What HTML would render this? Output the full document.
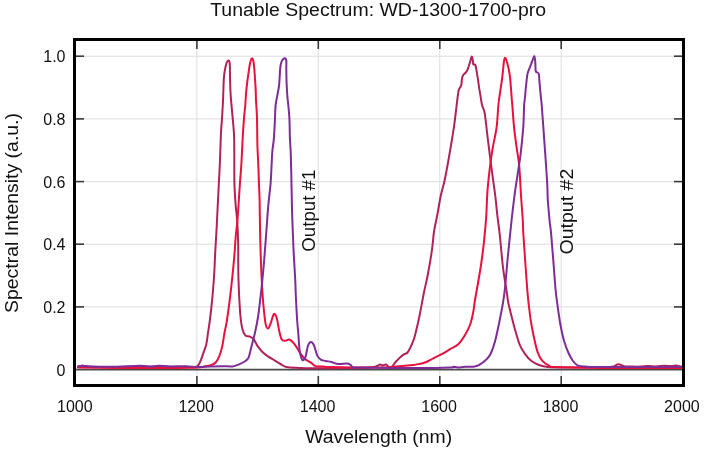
<!DOCTYPE html>
<html><head><meta charset="utf-8">
<style>
html,body{margin:0;padding:0;background:#fff;}
body{width:705px;height:450px;overflow:hidden;}
svg{display:block;will-change:transform;}
text{font-family:"Liberation Sans",sans-serif;fill:#111;}
</style></head><body>
<svg width="705" height="450" viewBox="0 0 705 450">
<rect width="705" height="450" fill="#fff"/>
<g stroke="#dddddd" stroke-width="1"><line x1="196.9" y1="41" x2="196.9" y2="384" /><line x1="318.3" y1="41" x2="318.3" y2="384" /><line x1="439.8" y1="41" x2="439.8" y2="384" /><line x1="561.2" y1="41" x2="561.2" y2="384" /><line x1="76" y1="306.9" x2="682" y2="306.9" /><line x1="76" y1="244.2" x2="682" y2="244.2" /><line x1="76" y1="181.6" x2="682" y2="181.6" /><line x1="76" y1="118.9" x2="682" y2="118.9" /><line x1="76" y1="56.2" x2="682" y2="56.2" /></g>
<line x1="76" y1="369.7" x2="682" y2="369.7" stroke="#4a4a4a" stroke-width="1.8"/>
<g fill="none" stroke-width="2" stroke-linejoin="round" stroke-linecap="round">
<path d="M78.0 366.5 C78.7 366.4 80.0 365.8 82.0 365.8 C84.0 365.9 83.7 366.6 90.0 366.8 C96.3 367.0 110.0 367.0 120.0 367.0 C130.0 367.0 140.0 366.8 150.0 366.8 C160.0 366.8 173.0 367.0 180.0 367.0 C187.0 367.0 189.3 367.1 192.2 367.0 C195.0 366.9 195.7 367.5 197.1 366.4 C198.5 365.3 199.7 362.8 200.8 360.3 C201.9 357.9 202.9 354.4 203.8 351.7 C204.7 349.0 205.6 347.6 206.3 344.4 C207.0 341.1 207.5 336.3 208.1 332.2 C208.7 328.1 209.2 325.5 209.9 320.0 C210.6 314.5 211.5 306.5 212.2 299.4 C212.9 292.3 213.5 284.6 214.0 277.2 C214.5 269.8 214.7 263.4 215.1 255.0 C215.5 246.6 216.1 238.8 216.7 226.7 C217.3 214.6 218.3 193.3 218.9 182.2 C219.5 171.1 219.7 168.0 220.0 160.0 C220.3 152.0 220.6 141.2 220.9 134.3 C221.2 127.4 221.7 123.5 222.0 118.3 C222.3 113.1 222.7 107.6 222.9 103.3 C223.1 99.0 223.2 96.0 223.3 92.7 C223.4 89.4 223.5 86.0 223.6 83.3 C223.7 80.6 223.8 78.9 224.0 76.7 C224.2 74.5 224.5 72.3 224.9 70.0 C225.3 67.7 226.1 64.3 226.7 62.7 C227.3 61.1 227.9 60.3 228.4 60.4 C228.9 60.5 229.4 60.6 229.7 63.3 C230.0 66.0 229.9 72.2 230.0 76.7 C230.1 81.2 230.2 86.0 230.4 90.0 C230.6 94.0 230.7 96.0 231.1 100.7 C231.5 105.4 232.2 112.7 232.7 118.3 C233.2 123.9 233.7 128.7 234.0 134.3 C234.3 139.9 234.2 143.7 234.3 151.7 C234.4 159.7 234.2 173.4 234.4 182.2 C234.6 191.0 235.1 197.7 235.6 204.4 C236.1 211.1 236.9 215.5 237.3 222.2 C237.7 228.9 238.0 235.2 238.2 244.4 C238.4 253.6 238.1 266.2 238.4 277.2 C238.7 288.2 239.4 302.1 240.0 310.6 C240.6 319.1 241.3 324.2 242.2 328.3 C243.1 332.4 244.1 333.9 245.3 335.3 C246.5 336.7 248.2 335.9 249.6 336.5 C251.0 337.1 252.2 337.5 253.5 339.0 C254.8 340.5 255.9 343.5 257.3 345.6 C258.8 347.7 260.4 349.9 262.2 351.7 C264.0 353.5 266.3 355.2 268.3 356.6 C270.3 358.0 272.4 359.1 274.4 360.3 C276.4 361.5 278.5 362.9 280.5 364.0 C282.5 365.1 283.6 366.4 286.6 367.0 C289.7 367.6 294.7 367.7 298.8 367.9 C302.9 368.1 302.5 368.2 311.0 368.2 C319.5 368.2 340.2 368.1 350.0 368.0 C359.8 367.9 365.5 367.8 370.0 367.5 C374.5 367.2 375.3 366.5 377.0 366.0 C378.7 365.5 379.0 364.6 380.0 364.5 C381.0 364.4 382.0 365.5 383.0 365.5 C384.0 365.5 385.0 364.2 386.0 364.5 C387.0 364.8 388.1 366.6 389.0 367.0 C389.9 367.4 390.9 367.3 391.6 367.0 C392.3 366.7 392.5 366.0 393.3 365.0 C394.1 364.0 395.4 362.2 396.7 360.8 C397.9 359.4 399.6 357.8 400.8 356.7 C402.1 355.6 403.1 354.9 404.2 354.2 C405.3 353.5 406.4 353.8 407.5 352.5 C408.6 351.2 409.7 349.1 410.8 346.7 C411.9 344.3 413.1 341.9 414.2 338.3 C415.3 334.7 416.5 329.2 417.5 325.0 C418.5 320.8 418.9 318.8 420.0 313.3 C421.1 307.9 422.7 298.9 424.0 292.3 C425.3 285.7 426.7 280.8 428.0 273.7 C429.3 266.6 431.0 256.8 432.0 249.7 C433.0 242.6 433.2 236.8 434.1 231.0 C435.0 225.2 436.2 220.8 437.3 215.0 C438.4 209.2 439.5 201.8 440.7 196.0 C441.9 190.2 443.4 186.2 444.7 180.0 C446.0 173.8 447.1 167.6 448.7 158.7 C450.2 149.8 452.6 136.7 454.0 126.7 C455.4 116.8 456.6 105.1 457.4 99.0 C458.2 92.9 458.3 92.2 458.7 90.3 C459.1 88.4 459.6 88.6 460.0 87.7 C460.4 86.8 461.0 86.6 461.3 85.0 C461.6 83.4 461.7 80.0 462.0 78.3 C462.3 76.6 462.8 75.9 463.3 75.0 C463.9 74.1 464.6 73.8 465.3 73.0 C466.0 72.2 466.7 71.4 467.3 70.3 C467.9 69.2 468.2 67.6 468.7 66.3 C469.1 65.0 469.5 63.9 470.0 62.3 C470.5 60.7 471.2 57.1 471.6 56.7 C472.1 56.3 472.4 58.4 472.7 59.7 C473.0 61.0 472.9 63.4 473.3 64.3 C473.7 65.2 474.7 63.8 475.3 65.0 C475.9 66.2 476.2 69.2 476.7 71.7 C477.1 74.2 477.6 76.8 478.0 79.7 C478.4 82.6 478.9 86.1 479.3 89.0 C479.8 91.9 480.2 94.3 480.7 97.0 C481.1 99.7 481.3 102.3 482.0 105.0 C482.7 107.7 483.8 108.3 484.7 113.3 C485.6 118.2 486.2 125.8 487.3 134.7 C488.4 143.6 490.0 156.5 491.3 166.7 C492.6 176.9 494.3 187.9 495.3 196.0 C496.3 204.1 496.5 208.2 497.3 215.0 C498.1 221.8 499.1 228.2 500.0 237.0 C500.9 245.8 501.9 258.3 503.0 267.5 C504.1 276.7 505.8 286.1 506.7 292.0 C507.6 297.9 507.5 298.8 508.4 303.2 C509.3 307.6 510.9 313.6 512.1 318.4 C513.3 323.2 514.4 327.5 515.7 332.0 C517.0 336.5 518.4 341.6 520.0 345.3 C521.6 349.0 523.4 351.7 525.3 354.3 C527.2 356.9 529.2 359.2 531.5 361.0 C533.8 362.8 536.2 364.0 539.0 365.0 C541.8 366.0 544.6 366.6 548.0 367.0 C551.4 367.4 550.7 367.4 559.4 367.5 C568.1 367.6 591.2 367.4 600.0 367.3 C608.8 367.2 608.9 367.3 612.0 366.8 C615.1 366.3 616.5 364.4 618.5 364.3 C620.5 364.2 621.8 365.8 624.0 366.2 C626.2 366.6 629.3 366.4 632.0 366.5 C634.7 366.6 637.3 366.7 640.0 366.6 C642.7 366.5 645.3 365.9 648.0 365.9 C650.7 365.9 653.3 366.4 656.0 366.4 C658.7 366.4 661.3 365.9 664.0 365.8 C666.7 365.7 670.0 366.1 672.0 366.0 C674.0 365.9 674.4 365.3 676.0 365.5 C677.6 365.7 680.9 366.8 681.9 367.0" stroke="#b22259"/>
<path d="M78.0 367.5 C85.0 367.6 103.0 367.9 120.0 368.0 C137.0 368.1 166.9 368.0 180.0 367.9 C193.1 367.8 194.2 367.9 198.3 367.6 C202.4 367.4 202.4 366.8 204.4 366.4 C206.4 366.0 208.7 365.8 210.5 365.2 C212.3 364.6 214.0 364.1 215.4 362.7 C216.8 361.3 218.0 359.2 219.1 356.6 C220.2 354.0 221.2 351.0 222.1 346.9 C223.0 342.8 223.8 336.7 224.6 332.2 C225.4 327.7 225.9 327.3 227.0 320.0 C228.1 312.7 229.9 299.1 231.1 288.3 C232.3 277.5 233.7 263.4 234.4 255.0 C235.2 246.6 235.0 244.4 235.6 237.8 C236.2 231.2 237.1 224.9 237.8 215.6 C238.5 206.3 239.4 190.6 240.0 182.2 C240.6 173.8 240.9 172.3 241.3 165.0 C241.8 157.7 242.2 146.1 242.7 138.3 C243.1 130.5 243.6 123.8 244.0 118.3 C244.4 112.8 245.0 109.0 245.3 105.0 C245.6 101.0 245.7 97.6 246.0 94.0 C246.3 90.4 246.8 86.2 247.1 83.3 C247.4 80.4 247.6 79.4 248.0 76.7 C248.4 74.0 248.9 70.0 249.3 67.3 C249.8 64.6 250.2 62.2 250.7 60.7 C251.2 59.2 251.7 58.3 252.1 58.3 C252.5 58.3 252.9 58.8 253.3 60.7 C253.7 62.7 254.1 66.2 254.4 70.0 C254.7 73.8 255.1 80.0 255.3 83.3 C255.5 86.6 255.6 87.1 255.7 90.0 C255.8 92.9 255.9 98.2 256.0 100.7 C256.1 103.2 256.1 102.1 256.3 105.0 C256.5 107.9 256.8 111.6 257.0 118.3 C257.2 125.0 257.2 137.2 257.4 145.0 C257.6 152.8 258.1 158.8 258.3 165.0 C258.6 171.2 258.7 176.4 258.9 182.2 C259.1 188.0 259.4 192.6 259.6 200.0 C259.8 207.4 259.8 217.5 260.0 226.7 C260.2 235.9 260.4 246.6 260.7 255.0 C261.0 263.4 261.2 269.1 261.6 277.2 C262.0 285.3 262.6 296.1 263.3 303.9 C264.0 311.7 264.8 319.8 265.6 323.9 C266.4 328.0 267.2 328.5 268.0 328.4 C268.8 328.3 269.6 325.9 270.6 323.5 C271.6 321.1 272.9 314.9 273.9 314.0 C274.9 313.1 275.8 315.4 276.7 318.0 C277.6 320.6 278.2 326.2 279.0 329.8 C279.8 333.4 280.6 337.7 281.7 339.5 C282.8 341.3 284.2 340.8 285.4 340.8 C286.6 340.8 287.9 339.3 289.1 339.5 C290.3 339.7 291.5 340.8 292.7 342.0 C293.9 343.2 295.2 345.1 296.4 346.9 C297.6 348.7 298.7 351.0 300.1 353.0 C301.5 355.0 303.2 357.5 305.0 359.1 C306.8 360.7 309.2 361.5 311.0 362.7 C312.8 363.9 313.8 365.8 315.9 366.4 C317.9 367.0 320.9 366.3 323.3 366.4 C325.7 366.5 320.6 366.8 330.0 367.0 C339.4 367.2 369.4 367.6 380.0 367.5 C390.6 367.4 389.1 367.0 393.3 366.7 C397.5 366.4 401.4 366.1 405.0 365.8 C408.6 365.5 411.7 365.2 415.0 364.7 C418.3 364.1 421.9 363.6 425.0 362.5 C428.1 361.4 430.5 359.7 433.3 358.3 C436.1 356.9 438.9 355.7 441.7 354.2 C444.5 352.7 447.2 350.9 450.0 349.2 C452.8 347.5 455.8 346.6 458.3 344.2 C460.8 341.8 463.1 338.2 465.0 335.0 C466.9 331.8 468.6 328.9 470.0 325.0 C471.4 321.1 472.5 315.9 473.3 311.7 C474.1 307.5 474.3 304.1 475.0 300.0 C475.7 295.9 476.2 293.2 477.3 287.0 C478.4 280.8 480.2 270.6 481.3 263.0 C482.4 255.4 483.2 249.4 484.0 241.7 C484.8 234.0 485.6 225.1 486.2 217.0 C486.8 208.9 486.7 201.7 487.3 193.3 C487.9 184.9 489.1 174.2 490.0 166.7 C490.9 159.1 491.6 154.7 492.7 148.0 C493.8 141.3 495.8 133.9 496.7 126.7 C497.6 119.5 497.8 110.6 498.4 105.0 C498.9 99.4 499.5 96.8 500.0 93.0 C500.5 89.2 501.1 85.8 501.6 82.3 C502.1 78.8 502.5 75.2 502.9 71.7 C503.3 68.2 503.6 63.3 504.0 61.0 C504.4 58.7 504.7 57.7 505.1 57.7 C505.6 57.7 506.1 59.1 506.7 61.0 C507.3 62.9 508.1 66.3 508.7 69.0 C509.2 71.7 509.6 73.9 510.0 77.0 C510.4 80.1 510.6 84.2 510.9 87.7 C511.2 91.2 511.5 95.4 511.7 98.3 C511.9 101.2 511.9 100.3 512.3 105.0 C512.7 109.7 513.3 119.5 514.0 126.7 C514.7 133.9 515.8 141.3 516.7 148.0 C517.6 154.7 518.6 158.5 519.3 166.7 C520.0 174.9 520.5 188.1 521.1 197.0 C521.7 205.9 522.4 213.9 522.8 220.0 C523.2 226.1 522.8 225.5 523.3 233.3 C523.8 241.1 524.9 257.2 525.6 266.7 C526.3 276.1 526.8 283.6 527.3 290.0 C527.8 296.4 528.2 300.1 528.8 305.1 C529.4 310.1 529.9 314.8 530.7 320.2 C531.6 325.6 532.7 331.9 533.9 337.3 C535.1 342.7 536.3 348.5 537.7 352.4 C539.1 356.3 540.5 358.7 542.4 360.9 C544.3 363.1 546.8 364.6 549.0 365.6 C551.2 366.6 547.1 366.7 555.6 367.1 C564.1 367.5 578.9 367.9 600.0 368.0 C621.1 368.1 668.3 368.0 682.0 368.0" stroke="#e8103c"/>
<path d="M78.0 366.8 C78.7 366.6 80.2 365.8 82.2 365.7 C84.2 365.6 85.4 366.3 90.0 366.5 C94.6 366.7 101.7 366.9 110.0 366.8 C118.3 366.7 133.3 365.9 140.0 365.8 C146.7 365.8 146.9 366.5 150.0 366.5 C153.1 366.5 155.5 365.8 158.8 365.8 C162.1 365.8 165.4 366.4 170.0 366.5 C174.6 366.6 181.4 366.1 186.1 366.2 C190.8 366.3 194.2 367.0 198.3 367.0 C202.4 367.0 206.4 366.5 210.5 366.4 C214.6 366.3 219.0 366.2 222.7 366.2 C226.4 366.2 229.8 366.7 232.5 366.4 C235.2 366.1 236.6 365.4 238.6 364.6 C240.6 363.8 243.1 362.6 244.7 361.5 C246.3 360.4 247.5 359.5 248.4 357.9 C249.3 356.3 249.6 353.9 250.2 351.7 C250.8 349.4 251.2 347.6 252.0 344.4 C252.8 341.1 254.2 336.3 255.1 332.2 C256.0 328.1 256.9 323.6 257.5 320.0 C258.1 316.4 258.1 317.0 258.9 310.6 C259.7 304.2 261.3 290.8 262.2 281.7 C263.1 272.6 263.8 265.2 264.5 256.0 C265.2 246.8 266.1 235.3 266.7 226.7 C267.3 218.1 267.7 211.8 268.4 204.4 C269.1 197.0 270.2 188.8 270.7 182.2 C271.2 175.6 271.3 170.1 271.6 165.0 C271.9 159.9 271.9 156.1 272.3 151.7 C272.7 147.2 273.4 143.9 273.9 138.3 C274.3 132.7 274.8 123.0 275.0 118.3 C275.2 113.6 275.2 112.5 275.3 110.0 C275.4 107.5 275.5 105.7 275.9 103.0 C276.3 100.3 277.1 96.8 277.6 94.0 C278.1 91.2 278.6 88.9 279.0 86.0 C279.4 83.1 279.5 79.8 279.7 76.7 C279.9 73.6 280.0 69.8 280.3 67.3 C280.6 64.8 280.9 63.3 281.4 62.0 C281.8 60.7 282.4 59.9 283.0 59.3 C283.6 58.7 284.4 58.1 285.0 58.3 C285.6 58.5 286.1 58.8 286.3 60.7 C286.5 62.7 286.2 66.2 286.3 70.0 C286.4 73.8 286.4 78.8 286.6 83.3 C286.8 87.8 287.1 93.1 287.4 96.7 C287.7 100.3 288.0 101.4 288.3 105.0 C288.6 108.6 289.1 112.8 289.4 118.3 C289.7 123.8 289.7 132.7 289.9 138.3 C290.1 143.9 290.5 146.4 290.7 151.7 C290.9 157.0 291.0 163.6 291.2 170.0 C291.4 176.4 291.4 182.4 291.6 190.0 C291.8 197.6 291.9 206.5 292.2 215.6 C292.5 224.7 293.0 237.8 293.3 244.4 C293.6 251.0 293.5 249.5 293.8 255.0 C294.1 260.5 294.7 269.8 295.1 277.2 C295.5 284.6 295.6 292.1 296.0 299.4 C296.4 306.7 296.8 315.5 297.2 321.0 C297.6 326.5 297.8 327.5 298.2 332.2 C298.6 336.9 299.0 345.0 299.5 349.3 C300.0 353.6 300.7 356.1 301.3 357.9 C301.9 359.7 302.4 360.5 303.1 360.3 C303.8 360.1 304.8 359.1 305.6 356.6 C306.4 354.2 307.1 348.0 308.0 345.6 C308.9 343.2 310.0 342.0 311.0 342.0 C312.0 342.0 313.1 343.4 314.1 345.6 C315.1 347.8 316.1 353.0 317.2 355.4 C318.3 357.8 319.4 358.8 320.8 359.7 C322.2 360.6 323.9 360.5 325.7 360.9 C327.4 361.3 329.2 361.5 331.3 362.0 C333.4 362.5 335.8 363.9 338.4 364.1 C341.0 364.3 345.0 363.3 347.0 363.4 C349.0 363.5 349.6 364.2 350.5 364.8 C351.4 365.4 351.1 366.4 352.6 366.9 C354.1 367.4 348.5 367.4 359.7 367.6 C370.9 367.8 404.9 368.0 420.0 368.0 C435.1 368.0 444.4 367.7 450.0 367.5 C455.6 367.3 452.0 366.7 453.3 366.7 C454.6 366.7 456.1 367.5 458.0 367.5 C459.9 367.5 462.4 366.8 465.0 366.7 C467.6 366.6 471.1 366.9 473.3 366.7 C475.5 366.5 476.6 366.1 478.0 365.5 C479.4 364.9 480.4 364.2 481.7 363.3 C483.0 362.4 484.2 361.5 485.7 360.0 C487.1 358.5 488.8 357.5 490.4 354.3 C492.0 351.1 493.7 346.1 495.1 341.0 C496.5 335.9 497.6 330.0 498.9 324.0 C500.1 318.0 501.6 311.0 502.6 305.0 C503.6 299.0 504.1 296.3 505.0 288.0 C505.9 279.7 506.9 266.2 508.0 255.0 C509.1 243.8 510.4 231.3 511.5 221.0 C512.6 210.7 513.7 201.5 514.8 193.3 C515.9 185.1 517.0 178.7 518.0 172.0 C519.0 165.3 519.8 160.9 520.7 153.3 C521.6 145.8 522.7 134.8 523.3 126.7 C523.9 118.7 523.9 109.3 524.1 105.0 C524.3 100.7 524.3 103.7 524.6 101.0 C524.9 98.3 525.4 92.5 525.7 89.0 C526.1 85.5 526.4 82.4 526.7 79.7 C527.0 77.0 527.1 75.2 527.7 73.0 C528.3 70.8 529.5 68.3 530.3 66.3 C531.1 64.3 531.6 62.7 532.3 61.0 C533.0 59.3 533.8 56.1 534.3 56.3 C534.8 56.5 535.1 59.8 535.3 62.3 C535.5 64.8 535.4 69.3 535.7 71.0 C536.0 72.7 536.5 71.8 537.0 72.3 C537.5 72.8 538.3 72.5 538.7 73.7 C539.1 74.9 539.1 77.2 539.3 79.7 C539.5 82.2 539.8 85.9 540.1 89.0 C540.4 92.1 540.7 95.6 541.0 98.3 C541.3 101.0 541.3 100.3 541.7 105.0 C542.1 109.7 542.7 118.7 543.3 126.7 C543.9 134.8 544.5 143.5 545.2 153.3 C545.9 163.1 546.9 177.5 547.3 185.3 C547.7 193.1 547.4 194.2 547.8 200.0 C548.2 205.8 549.0 214.4 549.5 220.0 C550.0 225.6 550.4 225.5 551.1 233.3 C551.8 241.1 553.0 257.2 553.8 266.7 C554.5 276.1 555.0 283.6 555.6 290.0 C556.2 296.4 556.7 299.4 557.5 305.1 C558.3 310.8 559.2 318.0 560.3 324.0 C561.4 330.0 562.7 336.2 564.1 341.0 C565.5 345.8 567.0 349.7 568.5 353.0 C570.0 356.3 571.5 358.9 573.0 361.0 C574.5 363.1 575.5 364.4 577.5 365.3 C579.5 366.2 581.2 366.3 585.0 366.6 C588.8 366.9 583.8 367.0 600.0 367.0 C616.2 367.0 668.3 366.8 682.0 366.8" stroke="#7e2c96"/>
</g>
<g stroke="#3a3a3a" stroke-width="1.6"><line x1="196.9" y1="41" x2="196.9" y2="49" /><line x1="196.9" y1="376" x2="196.9" y2="384" /><line x1="318.3" y1="41" x2="318.3" y2="49" /><line x1="318.3" y1="376" x2="318.3" y2="384" /><line x1="439.8" y1="41" x2="439.8" y2="49" /><line x1="439.8" y1="376" x2="439.8" y2="384" /><line x1="561.2" y1="41" x2="561.2" y2="49" /><line x1="561.2" y1="376" x2="561.2" y2="384" /><line x1="76" y1="306.9" x2="84" y2="306.9" /><line x1="674" y1="306.9" x2="682" y2="306.9" /><line x1="76" y1="244.2" x2="84" y2="244.2" /><line x1="674" y1="244.2" x2="682" y2="244.2" /><line x1="76" y1="181.6" x2="84" y2="181.6" /><line x1="674" y1="181.6" x2="682" y2="181.6" /><line x1="76" y1="118.9" x2="84" y2="118.9" /><line x1="674" y1="118.9" x2="682" y2="118.9" /><line x1="76" y1="56.2" x2="84" y2="56.2" /><line x1="674" y1="56.2" x2="682" y2="56.2" /></g>
<rect x="74.5" y="39.5" width="609" height="346" fill="none" stroke="#000" stroke-width="3"/>
<text x="378.2" y="16.2" text-anchor="middle" font-size="18" textLength="336" lengthAdjust="spacingAndGlyphs">Tunable Spectrum: WD-1300-1700-pro</text>
<g font-size="16"><text x="65.5" y="375.5" text-anchor="end">0</text><text x="65.5" y="312.8" text-anchor="end">0.2</text><text x="65.5" y="250.1" text-anchor="end">0.4</text><text x="65.5" y="187.5" text-anchor="end">0.6</text><text x="65.5" y="124.8" text-anchor="end">0.8</text><text x="65.5" y="62.1" text-anchor="end">1.0</text><text x="74.8" y="412" text-anchor="middle">1000</text><text x="196.2" y="412" text-anchor="middle">1200</text><text x="317.6" y="412" text-anchor="middle">1400</text><text x="439.1" y="412" text-anchor="middle">1600</text><text x="560.5" y="412" text-anchor="middle">1800</text><text x="681.9" y="412" text-anchor="middle">2000</text></g>
<text x="378.7" y="443.2" text-anchor="middle" font-size="18.5" textLength="147" lengthAdjust="spacingAndGlyphs">Wavelength (nm)</text>
<text transform="translate(17.8,213) rotate(-90)" text-anchor="middle" font-size="19" textLength="200" lengthAdjust="spacingAndGlyphs">Spectral Intensity (a.u.)</text>
<text transform="translate(315,210.7) rotate(-90)" text-anchor="middle" font-size="18" textLength="82" lengthAdjust="spacingAndGlyphs">Output #1</text>
<text transform="translate(573.4,211.6) rotate(-90)" text-anchor="middle" font-size="19" textLength="86" lengthAdjust="spacingAndGlyphs">Output #2</text>
</svg>
</body></html>
